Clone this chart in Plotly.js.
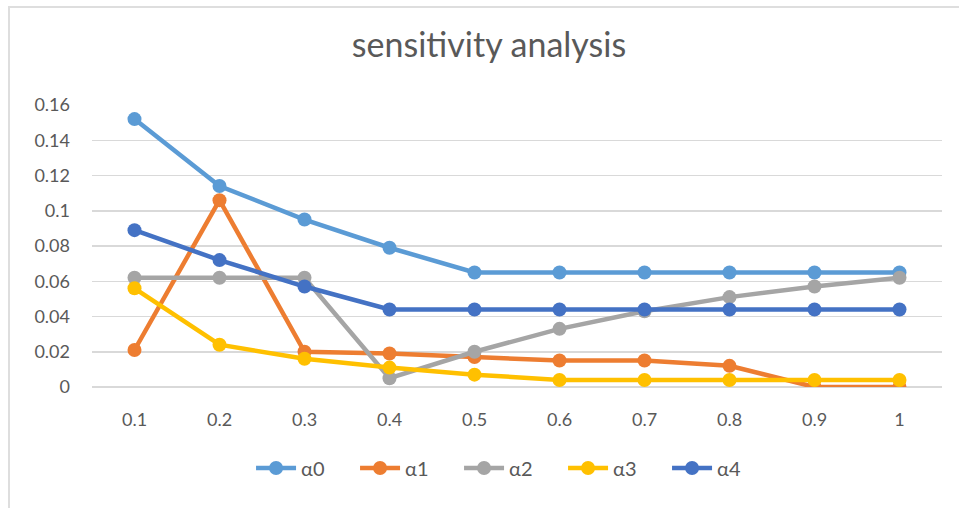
<!DOCTYPE html>
<html>
<head>
<meta charset="utf-8">
<script src="https://cdn.plot.ly/plotly-3.0.1.min.js"></script>
<style>
  html, body { margin: 0; padding: 0; background: #fff; overflow: hidden; width: 959px; height: 508px; }
  #frame { position: absolute; left: 8px; top: 6px; width: 1000px; height: 540px; border: 2px solid #dedede; box-sizing: border-box; }
  #chart { position: absolute; left: 0; top: 0; width: 959px; height: 508px; }
</style>
</head>
<body>
<div id="frame"></div>
<div id="chart"></div>
<script>
const categories = ["0.1", "0.2", "0.3", "0.4", "0.5", "0.6", "0.7", "0.8", "0.9", "1"];
const seriesNames = ["α0", "α1", "α2", "α3", "α4"];
const alpha0 = [0.152, 0.114, 0.095, 0.079, 0.065, 0.065, 0.065, 0.065, 0.065, 0.065];
const alpha1 = [0.021, 0.106, 0.020, 0.019, 0.017, 0.015, 0.015, 0.012, 0.000, 0.000];
const alpha2 = [0.062, 0.062, 0.062, 0.005, 0.020, 0.033, 0.043, 0.051, 0.057, 0.062];
const alpha3 = [0.056, 0.024, 0.016, 0.011, 0.007, 0.004, 0.004, 0.004, 0.004, 0.004];
const alpha4 = [0.089, 0.072, 0.057, 0.044, 0.044, 0.044, 0.044, 0.044, 0.044, 0.044];
const yTicks = [0, 0.02, 0.04, 0.06, 0.08, 0.1, 0.12, 0.14, 0.16];
const yTickText = ["0", "0.02", "0.04", "0.06", "0.08", "0.1", "0.12", "0.14", "0.16"];

const colors = ["#5B9BD5", "#ED7D31", "#A5A5A5", "#FFC000", "#4472C4"];
const allSeries = [alpha0, alpha1, alpha2, alpha3, alpha4];

const traces = allSeries.map((vals, i) => ({
  type: "scatter",
  mode: "lines+markers",
  x: categories,
  y: vals,
  name: seriesNames[i],
  line: { color: colors[i], width: 4.5 },
  marker: { color: colors[i], size: 14 }
}));

const layout = {
  width: 959,
  height: 508,
  paper_bgcolor: "rgba(0,0,0,0)",
  plot_bgcolor: "rgba(0,0,0,0)",
  margin: { l: 92, r: 17, t: 105, b: 121 },
  font: { family: "Lato, 'Open Sans', sans-serif", color: "#595959", size: 18 },
  title: {
    text: "sensitivity analysis",
    x: 489 / 959, xref: "container", xanchor: "center",
    y: 1 - 45 / 508, yref: "container", yanchor: "middle",
    font: { family: "Lato, 'Open Sans', sans-serif", size: 34, color: "#595959" }
  },
  xaxis: {
    type: "category",
    range: [-0.5, 9.5],
    showgrid: false,
    showline: false,
    zeroline: false,
    ticks: "",
    ticklen: 0,
    ticklabelstandoff: 20,
    tickfont: { size: 18, color: "#595959" },
    automargin: false,
    fixedrange: true
  },
  yaxis: {
    range: [0, 0.16],
    tickvals: yTicks,
    ticktext: yTickText,
    showgrid: true,
    gridcolor: "#d9d9d9",
    gridwidth: 1.5,
    zeroline: true,
    zerolinecolor: "#d9d9d9",
    zerolinewidth: 1.5,
    showline: false,
    ticks: "",
    ticklabelstandoff: 21,
    tickfont: { size: 18, color: "#595959" },
    automargin: false,
    fixedrange: true
  },
  showlegend: true,
  legend: {
    orientation: "h",
    x: 0.493, xanchor: "center",
    y: -0.287, yanchor: "middle",
    font: { size: 20, color: "#595959" },
    itemwidth: 40,
    entrywidth: 49,
    entrywidthmode: "pixels",
    bgcolor: "rgba(0,0,0,0)"
  }
};

Plotly.newPlot("chart", traces, layout, { displayModeBar: false, staticPlot: true });
</script>
</body>
</html>
